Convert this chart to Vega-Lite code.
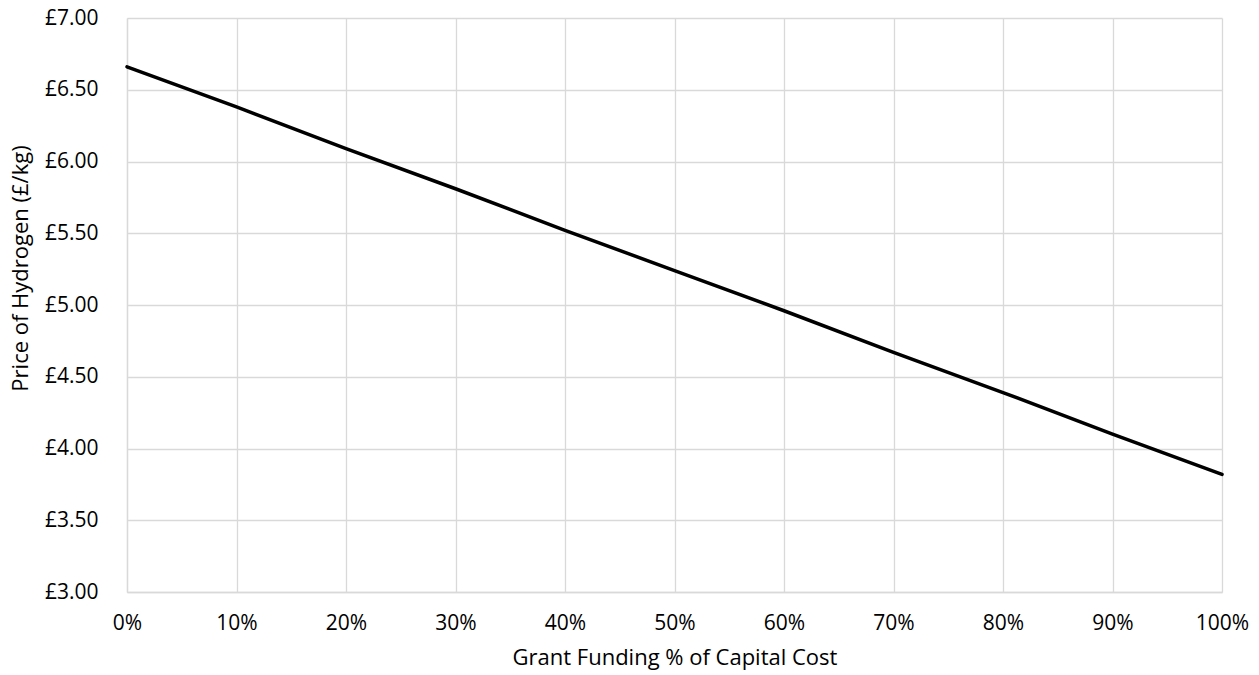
{
  "$schema": "https://vega.github.io/schema/vega-lite/v6.json",
  "autosize": {"type": "none"},
  "width": 1095,
  "height": 574,
  "padding": {"left": 127, "top": 18, "right": 37, "bottom": 83},
  "background": "white",
  "config": {
    "font": "Open Sans",
    "view": {"stroke": null},
    "axis": {
      "labelFont": "Open Sans",
      "titleFont": "Open Sans",
      "labelFontSize": 21,
      "titleFontSize": 22,
      "labelColor": "#000000",
      "titleColor": "#000000",
      "titleFontWeight": "normal",
      "gridColor": "#d9d9d9",
      "gridWidth": 1.3,
      "domainColor": "#d9d9d9",
      "domainWidth": 1.3,
      "ticks": false
    }
  },
  "data": {
    "values": [
      {"grant": 0.0, "price": 6.66},
      {"grant": 0.1, "price": 6.38},
      {"grant": 0.2, "price": 6.09},
      {"grant": 0.3, "price": 5.81},
      {"grant": 0.4, "price": 5.52},
      {"grant": 0.5, "price": 5.24},
      {"grant": 0.6, "price": 4.96},
      {"grant": 0.7, "price": 4.67},
      {"grant": 0.8, "price": 4.39},
      {"grant": 0.9, "price": 4.10},
      {"grant": 1.0, "price": 3.82}
    ]
  },
  "mark": {"type": "line", "color": "#000000", "strokeWidth": 3.5, "strokeCap": "round"},
  "encoding": {
    "x": {
      "field": "grant",
      "type": "quantitative",
      "scale": {"domain": [0, 1], "nice": false},
      "axis": {
        "title": "Grant Funding % of Capital Cost",
        "values": [0, 0.1, 0.2, 0.3, 0.4, 0.5, 0.6, 0.7, 0.8, 0.9, 1],
        "format": ".0%",
        "labelPadding": 20,
        "titlePadding": 14,
        "labelFlush": false
      }
    },
    "y": {
      "field": "price",
      "type": "quantitative",
      "scale": {"domain": [3, 7], "nice": false, "zero": false},
      "axis": {
        "title": "Price of Hydrogen (£/kg)",
        "values": [3, 3.5, 4, 4.5, 5, 5.5, 6, 6.5, 7],
        "labelExpr": "'£' + format(datum.value, '.2f')",
        "labelPadding": 29,
        "titlePadding": 12,
        "titleY": 250,
        "labelFlush": false
      }
    }
  }
}
